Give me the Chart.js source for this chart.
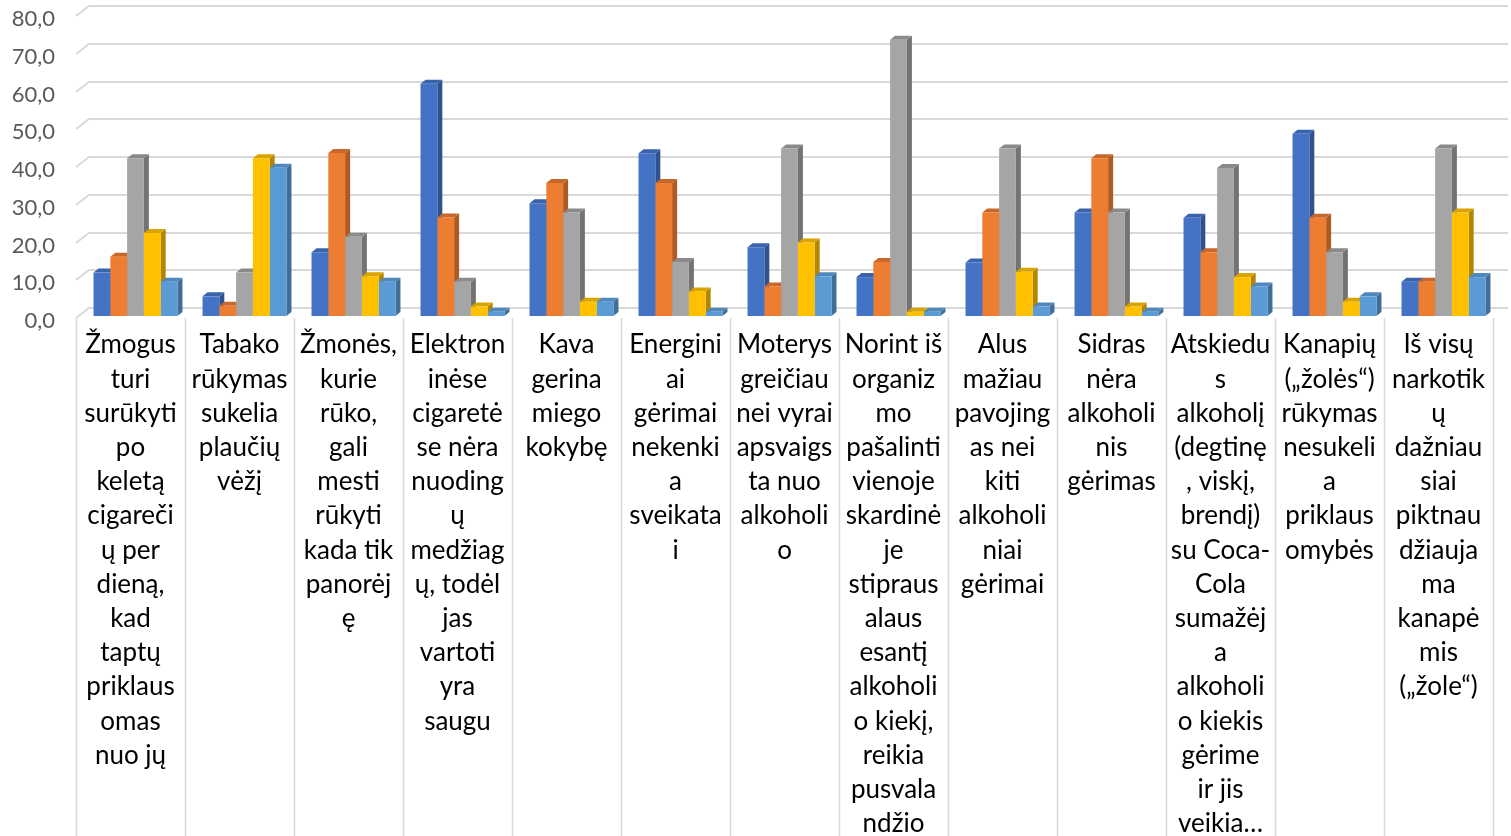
<!DOCTYPE html>
<html>
<head>
<meta charset="utf-8">
<script src="https://cdn.jsdelivr.net/npm/chart.js@4/dist/chart.umd.min.js"></script>
<style>
  html, body { margin: 0; padding: 0; background: #ffffff; overflow: hidden; }
  #wrap { width: 1511px; height: 836px; position: relative; }
</style>
</head>
<body>
<div id="wrap"><canvas id="chart" width="1511" height="836"></canvas></div>
<script>
// Category labels, already broken into the lines shown under each column
const categoryLines = [
  ["Žmogus", "turi", "surūkyti", "po", "keletą", "cigareči", "ų per", "dieną,", "kad", "taptų", "priklaus", "omas", "nuo jų"],
  ["Tabako", "rūkymas", "sukelia", "plaučių", "vėžį"],
  ["Žmonės,", "kurie", "rūko,", "gali", "mesti", "rūkyti", "kada tik", "panorėj", "ę"],
  ["Elektron", "inėse", "cigaretė", "se nėra", "nuoding", "ų", "medžiag", "ų, todėl", "jas", "vartoti", "yra", "saugu"],
  ["Kava", "gerina", "miego", "kokybę"],
  ["Energini", "ai", "gėrimai", "nekenki", "a", "sveikata", "i"],
  ["Moterys", "greičiau", "nei vyrai", "apsvaigs", "ta nuo", "alkoholi", "o"],
  ["Norint iš", "organiz", "mo", "pašalinti", "vienoje", "skardinė", "je", "stipraus", "alaus", "esantį", "alkoholi", "o kiekį,", "reikia", "pusvala", "ndžio"],
  ["Alus", "mažiau", "pavojing", "as nei", "kiti", "alkoholi", "niai", "gėrimai"],
  ["Sidras", "nėra", "alkoholi", "nis", "gėrimas"],
  ["Atskiedu", "s", "alkoholį", "(degtinę", ", viskį,", "brendį)", "su Coca-", "Cola", "sumažėj", "a", "alkoholi", "o kiekis", "gėrime", "ir jis", "veikia…"],
  ["Kanapių", "(„žolės“)", "rūkymas", "nesukeli", "a", "priklaus", "omybės"],
  ["Iš visų", "narkotik", "ų", "dažniau", "siai", "piktnau", "džiauja", "ma", "kanapė", "mis", "(„žole“)"]
];

// Five answer series, one value per category (%)
const seriesNames = ["Serija 1", "Serija 2", "Serija 3", "Serija 4", "Serija 5"];
const series1 = [11.5, 5.2, 16.9, 61.5, 29.9, 43.1, 18.2, 10.3, 14.2, 27.4, 26.0, 48.3, 9.1];
const series2 = [15.7, 2.7, 43.2, 26.1, 35.2, 35.2, 7.8, 14.3, 27.4, 41.8, 16.9, 26.0, 9.1];
const series3 = [41.8, 11.5, 21.0, 9.1, 27.4, 14.3, 44.4, 73.2, 44.4, 27.4, 39.2, 16.9, 44.4];
const series4 = [22.0, 41.8, 10.5, 2.5, 3.8, 6.5, 19.5, 1.1, 11.7, 2.5, 10.3, 3.8, 27.4];
const series5 = [9.1, 39.3, 9.1, 1.1, 3.8, 1.1, 10.5, 1.1, 2.5, 1.1, 7.8, 5.2, 10.3];

// Value axis ticks
const yTickValues = [0, 10, 20, 30, 40, 50, 60, 70, 80];

// Colours: front face, side face, top cap
const frontColors = ["#4472C4", "#ED7D31", "#A5A5A5", "#FFC000", "#5B9BD5"];
const sideColors  = ["#2F528F", "#AE5A21", "#737373", "#B38600", "#3F6F99"];
const capColors   = ["#3A63AD", "#C7672A", "#8A8A8A", "#D9A400", "#4E88BC"];

// Pseudo-3D geometry (pixels)
const DEPTH_X = 5, DEPTH_Y = 4;      // column extrusion
const WALL_X = 13, WALL_Y = 9;       // back wall offset
const BAR_SHIFT = 5;                 // columns sit slightly right of the category centre
const GRID_COLOR = "#d9d9d9";

const seriesValues = [series1, series2, series3, series4, series5];

const depthPlugin = {
  id: "depth3d",
  beforeDatasetsDraw(chart) {
    const { ctx, chartArea, scales } = chart;
    const y = scales.y;
    ctx.save();
    // Back wall gridlines with the slanted left wall edge
    ctx.strokeStyle = GRID_COLOR;
    ctx.lineWidth = 2;
    yTickValues.forEach(v => {
      const py = Math.round(y.getPixelForValue(v));
      ctx.beginPath();
      ctx.moveTo(chartArea.left, py + 2);
      ctx.lineTo(chartArea.left + WALL_X, py - WALL_Y + 1);
      ctx.lineTo(chart.width - 3, py - WALL_Y + 1);
      ctx.stroke();
    });
    // Category separators running down through the label area
    ctx.lineWidth = 1.5;
    const n = categoryLines.length;
    const step = (chartArea.right - chartArea.left) / n;
    for (let i = 0; i <= n; i++) {
      const px = Math.round(chartArea.left + i * step) + 0.5;
      ctx.beginPath();
      ctx.moveTo(px, chartArea.bottom + 2);
      ctx.lineTo(px, chart.height);
      ctx.stroke();
    }
    ctx.restore();

    // Shift the columns and draw their sides and caps; front faces follow
    ctx.save();
    ctx.translate(BAR_SHIFT, 0);
    chart.data.datasets.forEach((ds, di) => {
      const meta = chart.getDatasetMeta(di);
      if (meta.hidden) return;
      meta.data.forEach(bar => {
        const p = bar.getProps(["x", "y", "base", "width"], true);
        const left = p.x - p.width / 2, right = p.x + p.width / 2;
        const top = Math.min(p.y, p.base), base = Math.max(p.y, p.base);
        // side face
        ctx.fillStyle = sideColors[di];
        ctx.beginPath();
        ctx.moveTo(right, top);
        ctx.lineTo(right + DEPTH_X, top - DEPTH_Y);
        ctx.lineTo(right + DEPTH_X, base - DEPTH_Y);
        ctx.lineTo(right, base);
        ctx.closePath();
        ctx.fill();
        // top cap
        ctx.fillStyle = capColors[di];
        ctx.beginPath();
        ctx.moveTo(left, top);
        ctx.lineTo(left + DEPTH_X, top - DEPTH_Y);
        ctx.lineTo(right + DEPTH_X, top - DEPTH_Y);
        ctx.lineTo(right, top);
        ctx.closePath();
        ctx.fill();
      });
    });
  },
  afterDatasetsDraw(chart) {
    chart.ctx.restore();
  }
};

const fmt = v => Number(v).toFixed(1).replace(".", ",");

new Chart(document.getElementById("chart"), {
  type: "bar",
  data: {
    labels: categoryLines,
    datasets: seriesValues.map((vals, i) => ({
      label: seriesNames[i],
      data: vals,
      backgroundColor: frontColors[i],
      borderWidth: 0,
      barPercentage: 1.0,
      categoryPercentage: 0.77
    }))
  },
  options: {
    responsive: false,
    animation: false,
    devicePixelRatio: 1,
    layout: { padding: { top: 14, right: 18, left: 0, bottom: 0 } },
    plugins: {
      legend: { display: false },
      tooltip: { enabled: false },
      title: { display: false }
    },
    scales: {
      x: {
        type: "category",
        offset: true,
        grid: { display: false, drawTicks: false },
        border: { display: false },
        ticks: {
          autoSkip: false,
          maxRotation: 0,
          minRotation: 0,
          padding: 12,
          color: "#000000",
          font: { family: "Lato", size: 26, lineHeight: "34.2px" }
        },
        afterFit(scale) {
          scale.height = 520;
          scale.paddingLeft = 0;
          scale.paddingRight = 0;
        }
      },
      y: {
        min: 0,
        max: 80,
        grid: { display: false, drawTicks: false },
        border: { display: false },
        afterBuildTicks(scale) { scale.ticks = yTickValues.map(v => ({ value: v })); },
        ticks: {
          padding: 21,
          labelOffset: 5,
          color: "#595959",
          font: { family: "Lato", size: 22 },
          callback: v => fmt(v)
        },
        afterFit(scale) {
          scale.width = 76;
          scale.paddingTop = 0;
          scale.paddingBottom = 0;
        }
      }
    }
  },
  plugins: [depthPlugin]
});
</script>
</body>
</html>
